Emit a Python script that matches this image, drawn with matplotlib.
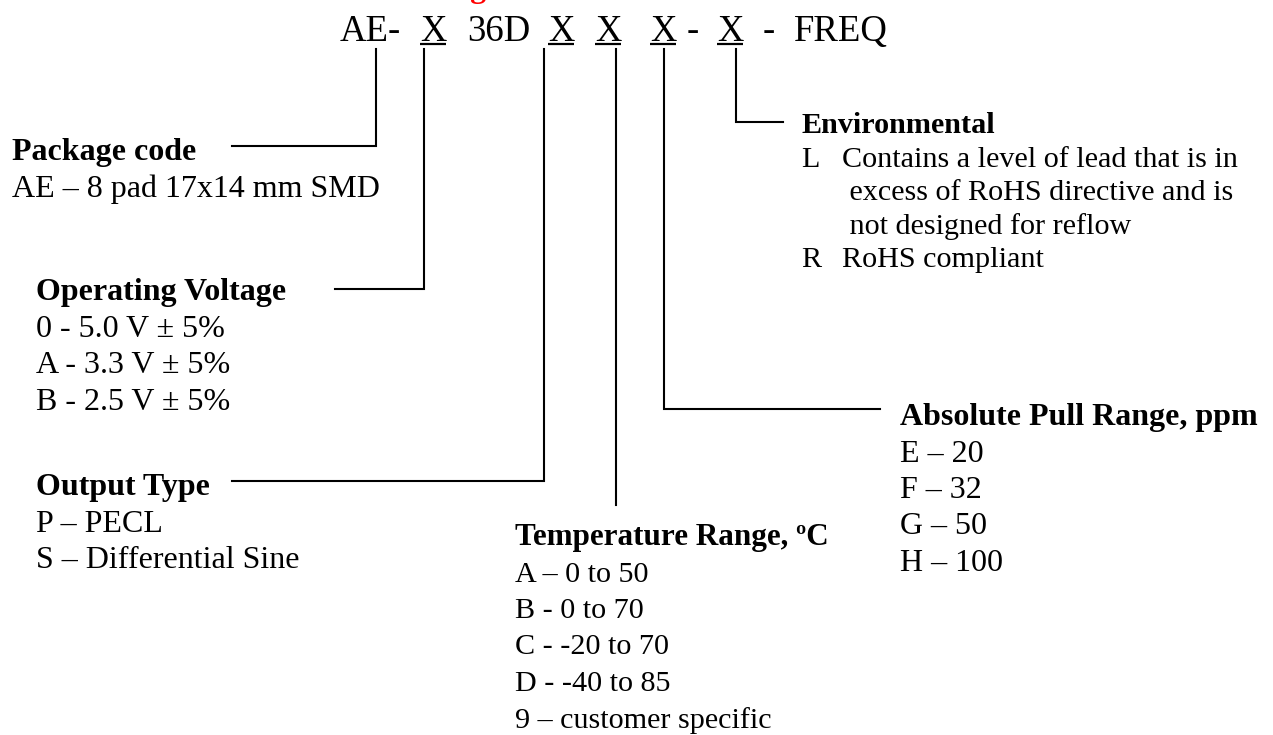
import matplotlib
matplotlib.use('Agg')
import matplotlib.pyplot as plt

# ****************Text content of the ordering code diagram**************** #
title = 'Ordering Information'
code_parts = ['AE-', 'X', '36D', 'X', 'X', 'X', '-', 'X', '-', 'FREQ']
code_underlined = [False, True, False, True, True, True, False, True, False, False]

package_title = 'Package code'
package_items = ['AE – 8 pad 17x14 mm SMD']

voltage_title = 'Operating Voltage'
voltage_items = ['0 - 5.0 V ± 5%', 'A - 3.3 V ± 5%', 'B - 2.5 V ± 5%']

output_title = 'Output Type'
output_items = ['P – PECL', 'S – Differential Sine']

temp_title = 'Temperature Range, ºC'
temp_items = ['A – 0 to 50', 'B - 0 to 70', 'C - -20 to 70', 'D - -40 to 85',
              '9 – customer specific']

pull_title = 'Absolute Pull Range, ppm'
pull_items = ['E – 20', 'F – 32', 'G – 50', 'H – 100']

env_title = 'Environmental'
env_keys = ['L', '', '', 'R']
env_items = ['Contains a level of lead that is in',
             ' excess of RoHS directive and is',
             ' not designed for reflow',
             'RoHS compliant']

# *************************************************************************** #
W, H = 1273, 735
font = 'Liberation Serif'
body_size = 23
code_size = 26.5
lead = 36.5          # line spacing in pixels

fig = plt.figure(figsize=(W / 100, H / 100), dpi=100)
ax = fig.add_axes([0, 0, 1, 1])
ax.set_xlim(0, W)
ax.set_ylim(H, 0)
ax.axis('off')

# red title, mostly cut off at the top edge
ax.text(358, -3.5, title, color='red', fontsize=23, fontweight='bold',
        family=font, va='baseline', clip_on=False)

# code line
code_x = [340, 420, 467, 548, 595, 650, 687, 717, 763, 794]
code_base = 41
code_texts = []
for x, part in zip(code_x, code_parts):
    code_texts.append(ax.text(x, code_base, part, fontsize=code_size,
                              family=font, va='baseline'))

fig.canvas.draw()
inv = ax.transData.inverted()
for t, ul in zip(code_texts, code_underlined):
    if ul:
        bb = t.get_window_extent()
        x0, _ = inv.transform((bb.x0, bb.y0))
        x1, _ = inv.transform((bb.x1, bb.y0))
        ax.plot([x0, x1], [44, 44], color='black', lw=1.6,
                solid_capstyle='butt')


def block(x, y, head, items, size=body_size, head_size=None, step=lead):
    ax.text(x, y, head, fontsize=head_size or size, fontweight='bold',
            family=font, va='baseline')
    for i, item in enumerate(items):
        ax.text(x, y + step * (i + 1), item, fontsize=size, family=font,
                va='baseline')


block(12, 160, package_title, package_items)
block(36, 300, voltage_title, voltage_items)
block(36, 495, output_title, output_items)
block(515, 545, temp_title, temp_items, size=21.7, head_size=22.4)
block(900, 425, pull_title, pull_items)

# environmental block has its own indents and tighter spacing
env_size = 21.7
env_lead = 33.5
ax.text(801, 133, env_title, fontsize=env_size, fontweight='bold',
        family=font, va='baseline')
for i, (key, item) in enumerate(zip(env_keys, env_items)):
    yy = 133 + env_lead * (i + 1)
    if key:
        ax.text(801, yy, key, fontsize=env_size, family=font, va='baseline')
    ax.text(842, yy, item, fontsize=env_size, family=font, va='baseline')

# connector lines
top = 49
connectors = [
    [(376, top), (376, 146), (232, 146)],
    [(424, top), (424, 289), (335, 289)],
    [(544, top), (544, 481), (232, 481)],
    [(616, top), (616, 505)],
    [(664, top), (664, 409), (880, 409)],
    [(736, top), (736, 122), (783, 122)],
]
for pts in connectors:
    xs = [p[0] for p in pts]
    ys = [p[1] for p in pts]
    ax.plot(xs, ys, color='black', lw=1.5, solid_joinstyle='miter')

fig.savefig('out.png', dpi=100, facecolor='white')
